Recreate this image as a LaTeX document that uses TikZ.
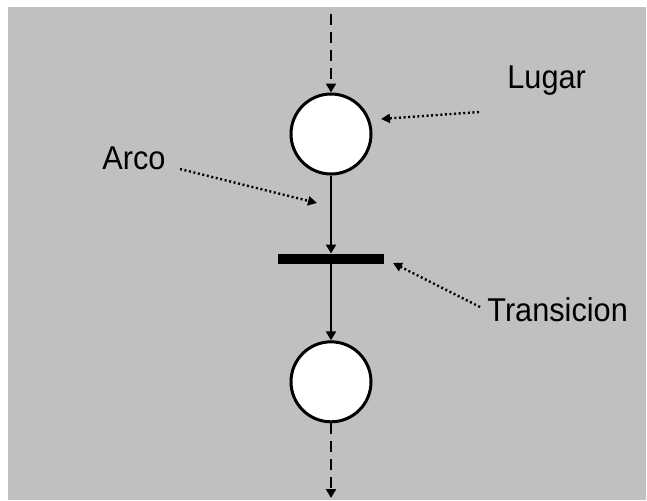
\documentclass[tikz,border=0pt]{standalone}
\usepackage{fontspec}
\setmainfont{Liberation Sans}[FakeStretch=0.93]
\usetikzlibrary{arrows.meta,positioning}
\definecolor{fondo}{RGB}{192,192,192}

\begin{document}
\begin{tikzpicture}[x=0.5pt,y=-0.5pt]
\tikzset{
  lugar/.style={circle,draw,fill=white,line width=1.5pt,minimum size=40pt,inner sep=0pt},
  transicion/.style={rectangle,fill=black,minimum width=53pt,minimum height=5pt,inner sep=0pt},
  arco/.style={-{Triangle[width=5pt,length=4.5pt]},line width=1.2pt},
  discontinuo/.style={arco,line width=1.4pt,dash pattern=on 5.5pt off 3.5pt},
  senal/.style={-{Triangle[width=4.5pt,length=4.5pt]},line width=1.2pt,dash pattern=on 1pt off 1.3pt},
  etiqueta/.style={font=\fontsize{16.5}{19}\selectfont,inner sep=0pt,anchor=base west}
}
\useasboundingbox (0,0) rectangle (647,500);
\fill[fondo] (8,7) rectangle (646,500);

\node[lugar] (p1) at (331,134) {};
\node[transicion,below=39pt of p1] (t1) {};
\node[lugar,below=38pt of t1] (p2) {};

\coordinate (entrada) at (331,14);
\coordinate (salida) at (331,498);
\draw[discontinuo] (entrada) -- (p1);
\draw[arco] (p1) -- (t1);
\draw[arco] (t1) -- (p2);
\draw[discontinuo] (p2) -- (salida);

\node[etiqueta] (lLugar) at (507,88) {Lugar};
\node[etiqueta] (lArco) at (102,169) {Arco};
\node[etiqueta] (lTrans) at (487,321) {Transicion};

\coordinate (dLugar) at (479,112);
\coordinate (aLugar) at (381,119);
\coordinate (dArco) at (180,169);
\coordinate (aArco) at (317,203);
\coordinate (dTrans) at (480,307);
\coordinate (aTrans) at (393,263);
\draw[senal] (dLugar) -- (aLugar);
\draw[senal] (dArco) -- (aArco);
\draw[senal] (dTrans) -- (aTrans);
\end{tikzpicture}
\end{document}
